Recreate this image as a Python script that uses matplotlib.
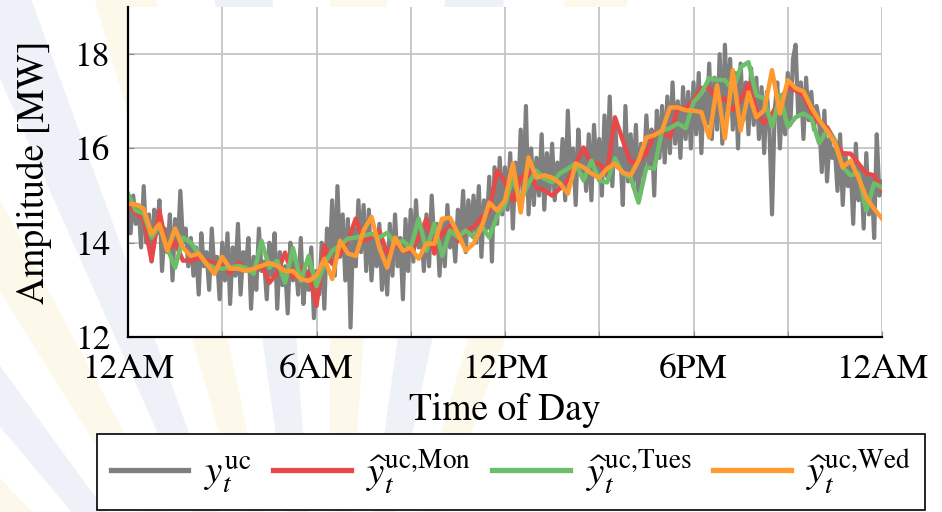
import numpy as np
import matplotlib
matplotlib.use("Agg")
import matplotlib.pyplot as plt
from matplotlib.patches import Polygon

plt.rcParams["font.family"] = ["STIXGeneral", "DejaVu Serif"]
plt.rcParams["mathtext.fontset"] = "stix"

# measured load, 5-minute samples (12 per hour) + midnight
y_uc = [
    14.9, 14.2, 15.0, 14.4, 14.8, 13.9, 15.2, 14.0, 14.6, 13.6, 14.7, 14.2,
    14.9, 13.4, 14.3, 13.8, 14.6, 13.2, 14.5, 13.9, 15.1, 14.0, 14.3, 13.5,
    14.1, 13.3, 13.9, 12.9, 14.2, 13.5, 13.8, 13.0, 14.3, 13.4, 13.7, 12.8,
    14.0, 13.2, 14.2, 12.7, 13.9, 13.3, 14.4, 12.9, 13.8, 13.5, 14.1, 12.6,
    13.7, 13.0, 14.3, 13.4, 13.6, 12.8, 14.0, 13.3, 14.2, 12.6, 13.8, 13.1,
    13.5, 12.5, 14.0, 13.2, 13.6, 12.9, 14.1, 12.7, 13.4, 13.0, 13.9, 12.4,
    13.4, 12.9, 14.0, 12.6, 14.3, 13.6, 14.9, 13.3, 15.2, 13.7, 14.6, 13.2,
    14.5, 12.2, 14.3, 13.5, 14.9, 13.8, 14.8, 13.4, 14.7, 13.2, 14.1, 13.5,
    14.4, 13.0, 13.9, 12.9, 14.4, 13.3, 14.6, 13.5, 14.1, 12.8, 14.5, 13.4,
    14.7, 13.6, 14.9, 13.9, 14.3, 13.4, 14.6, 13.5, 15.0, 14.0, 14.4, 13.3,
    14.5, 13.5, 14.8, 13.9, 14.3, 13.6, 14.7, 14.1, 15.1, 13.8, 14.9, 14.2,
    15.0, 14.0, 15.2, 13.7, 14.9, 14.3, 15.4, 13.6, 15.6, 14.4, 15.8, 14.6,
    15.6, 14.7, 15.9, 14.3, 15.7, 14.9, 16.4, 15.0, 16.9, 14.6, 16.0, 14.8,
    15.8, 15.0, 16.3, 14.7, 15.9, 15.1, 16.1, 14.9, 15.7, 15.2, 16.2, 14.9,
    16.8, 15.3, 16.0, 14.8, 16.4, 15.5, 15.9, 15.1, 16.3, 14.9, 16.5, 15.4,
    16.2, 15.0, 16.7, 15.4, 17.1, 15.2, 16.6, 15.6, 16.0, 14.8, 16.9, 15.3,
    16.3, 15.2, 16.5, 14.9, 16.1, 15.4, 16.7, 15.6, 16.4, 15.0, 16.8, 15.8,
    16.9, 15.7, 17.1, 15.9, 17.4, 16.1, 17.0, 15.8, 17.3, 16.2, 17.2, 16.0,
    17.4, 16.3, 17.6, 15.9, 17.2, 16.5, 17.8, 16.2, 17.5, 16.4, 18.0, 16.1,
    18.2, 16.7, 17.9, 16.4, 17.6, 16.0, 17.8, 16.6, 17.4, 16.3, 17.7, 16.5,
    17.5, 16.2, 17.3, 15.9, 17.2, 16.4, 14.6, 16.8, 17.4, 16.0, 17.1, 16.3,
    17.6, 16.5, 17.9, 18.2, 16.7, 17.4, 16.2, 17.5, 16.6, 17.2, 16.4, 16.9,
    16.6, 15.5, 16.8, 15.3, 16.2, 15.8, 16.0, 15.1, 16.3, 14.8, 15.9, 15.2,
    15.7, 14.4, 16.1, 14.9, 15.6, 14.3, 15.9, 14.6, 15.4, 14.1, 16.3, 15.0,
    15.3,
]

# forecasts, 15-minute samples (4 per hour) + midnight
y_mon = [
    14.83, 14.62, 14.51, 13.62, 14.68, 13.83, 14.00, 13.62,
    13.62, 13.68, 13.62, 13.57, 13.51, 13.36, 13.57, 13.47,
    13.36, 13.55, 13.15, 13.36, 13.79, 13.26, 13.47, 13.34,
    12.66, 13.94, 13.55, 13.77, 14.04, 14.51, 14.04, 14.11,
    14.26, 13.77, 13.98, 13.83, 13.83, 14.09, 14.51, 13.77,
    14.19, 14.36, 14.04, 14.26, 14.32, 14.53, 14.68, 15.53,
    15.30, 14.89, 15.38, 15.49, 15.17, 15.11, 15.00, 15.15,
    15.32, 15.68, 16.02, 15.68, 15.68, 15.49, 16.66, 16.17,
    15.70, 15.74, 15.89, 16.32, 16.32, 16.23, 16.87, 16.85,
    17.02, 17.28, 17.28, 17.02, 17.06, 16.81, 17.02, 17.38,
    16.81, 16.53, 16.74, 17.02, 17.30, 17.23, 17.13, 16.77,
    16.55, 16.45, 16.17, 15.89, 15.89, 15.68, 15.47, 15.43,
    15.11,
]
y_tues = [
    15.04, 14.68, 14.62, 14.11, 14.36, 13.89, 13.47, 14.11,
    14.00, 13.77, 13.55, 13.47, 13.45, 13.47, 13.51, 13.47,
    13.34, 14.04, 13.47, 13.62, 13.15, 13.89, 13.19, 13.72,
    13.08, 13.55, 13.83, 13.94, 14.09, 14.11, 14.15, 14.19,
    14.11, 14.21, 13.98, 14.04, 13.89, 14.51, 13.83, 14.40,
    13.72, 14.26, 14.11, 14.26, 14.11, 14.36, 14.11, 14.57,
    14.80, 15.38, 14.89, 15.26, 15.53, 15.36, 15.28, 15.47,
    15.57, 15.68, 15.32, 15.74, 15.32, 15.28, 15.79, 15.47,
    15.38, 14.85, 15.60, 15.57, 16.38, 16.43, 16.53, 16.43,
    16.98, 17.17, 17.49, 17.45, 17.45, 17.23, 17.72, 17.83,
    17.13, 17.06, 16.45, 17.13, 16.45, 16.66, 16.74, 16.64,
    16.11, 16.38, 16.17, 15.60, 15.43, 15.47, 14.68, 15.26,
    15.17,
]
y_wed = [
    14.83, 14.81, 14.72, 14.19, 14.40, 13.83, 14.30, 13.89,
    13.72, 13.77, 13.55, 13.34, 13.70, 13.45, 13.45, 13.40,
    13.45, 13.51, 13.57, 13.51, 13.40, 13.40, 13.23, 13.19,
    13.30, 13.66, 13.23, 14.04, 13.77, 13.72, 14.26, 14.55,
    13.89, 13.47, 14.11, 13.83, 13.89, 13.66, 13.98, 13.98,
    14.51, 14.53, 14.19, 13.83, 13.98, 14.32, 14.85, 14.68,
    14.90, 15.68, 14.64, 15.81, 15.38, 15.43, 15.38, 15.26,
    15.04, 15.68, 15.60, 15.47, 15.38, 15.57, 15.68, 15.49,
    15.43, 15.74, 16.23, 16.28, 16.38, 16.87, 16.87, 16.81,
    16.80, 16.77, 16.23, 17.34, 16.21, 17.66, 16.38, 17.19,
    16.66, 16.81, 17.66, 16.74, 17.45, 17.28, 17.21, 16.87,
    16.60, 16.38, 16.11, 15.60, 15.74, 15.38, 14.96, 14.72,
    14.51,
]

t_fine = np.linspace(0, 24, len(y_uc))
t_coarse = np.linspace(0, 24, len(y_mon))

xtick_pos = [0, 6, 12, 18, 24]
xtick_labels = ["12AM", "6AM", "12PM", "6PM", "12AM"]
ytick_pos = [12, 14, 16, 18]

W, H = 942.0, 512.0
fig = plt.figure(figsize=(W / 100, H / 100), dpi=100)

# faint sunburst watermark (pixel coords from top-left)
cx, cy = 330.0, 820.0
ray_angles = np.arange(70, 146, 8.0)
ray_cols = ["#fdf9ea", "#eef2f8"]
for i, a in enumerate(ray_angles):
    a0, a1 = np.radians(a), np.radians(a + 4.0)
    r = 1400
    pts = [(cx, cy),
           (cx + r * np.cos(a0), cy - r * np.sin(a0)),
           (cx + r * np.cos(a1), cy - r * np.sin(a1))]
    pts = [(px / W, 1 - py / H) for px, py in pts]
    fig.patches.append(Polygon(pts, closed=True, transform=fig.transFigure,
                               facecolor=ray_cols[i % 2], lw=0, zorder=-10))

ax = fig.add_axes([128 / W, 1 - 337 / H, (882 - 128) / W, (337 - 7) / H])
ax.set_facecolor("white")

ax.plot(t_fine, y_uc, color="#7f7f7f", lw=3.0, label=r"$y_t^{\mathrm{uc}}$", zorder=2)
ax.plot(t_coarse, y_mon, color="#e84848", lw=3.2,
        label=r"$\widehat{y}_t^{\mathrm{uc,\!Mon}}$", zorder=3)
ax.plot(t_coarse, y_tues, color="#6cbf68", lw=3.2,
        label=r"$\widehat{y}_t^{\mathrm{uc,\!Tues}}$", zorder=4)
ax.plot(t_coarse, y_wed, color="#ff9a30", lw=3.2,
        label=r"$\widehat{y}_t^{\mathrm{uc,\!Wed}}$", zorder=5)

ax.set_xlim(0, 24)
ax.set_ylim(12, 19)
ax.set_xticks(xtick_pos)
ax.set_xticklabels(xtick_labels)
ax.set_xticks([3, 9, 15, 21], minor=True)
ax.set_yticks(ytick_pos)
ax.grid(True, which="both", color="#c4c4c4", lw=1.3, zorder=0)
ax.tick_params(axis="both", which="both", direction="in", length=4,
               color="#888888", labelsize=25.5)
ax.tick_params(axis="x", pad=12)
ax.tick_params(axis="y", pad=13)
for s in ["top", "right"]:
    ax.spines[s].set_visible(False)
for s in ["left", "bottom"]:
    ax.spines[s].set_linewidth(1.6)
    ax.spines[s].set_zorder(6)

ax.set_xlabel("Time of Day", fontsize=27, labelpad=5)
ax.set_ylabel("Amplitude [MW]", fontsize=27, labelpad=16)

leg = fig.legend(loc="upper center", bbox_to_anchor=(511 / W, 1 - 434 / H),
                 ncol=4, fontsize=28, frameon=True, fancybox=False,
                 edgecolor="black", framealpha=1, handlelength=2.0,
                 handletextpad=0.4, columnspacing=0.55, borderpad=0.35,
                 borderaxespad=0)
leg.get_frame().set_linewidth(1.2)
for line in leg.get_lines():
    line.set_linewidth(3.8)

fig.savefig("out.png", dpi=100)
